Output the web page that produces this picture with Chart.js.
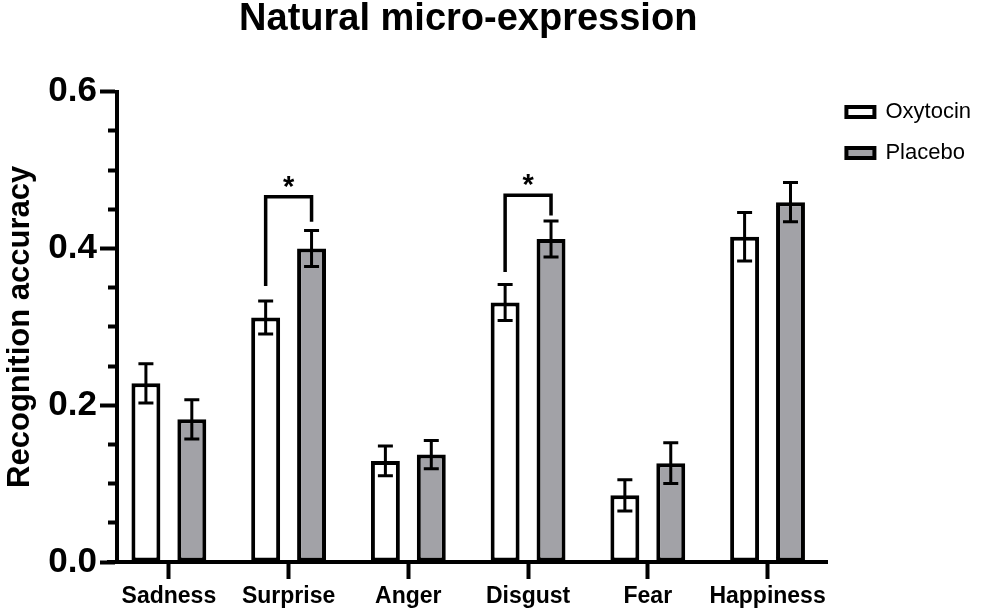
<!DOCTYPE html>
<html lang="en">

<head>
    <meta charset="UTF-8">
    <script src="https://cdn.jsdelivr.net/npm/chart.js"></script>
    <title>Natural micro-expression</title>
    <style>
        body { margin: 0; background: #FFFFFF; }
        #divChart { width: 981px; height: 616px; }
    </style>
</head>

<body>
    <div id="divChart"><canvas id="microChart" width="981" height="616"></canvas></div>
</body>

</html>

<script>
    const categories = ['Sadness', 'Surprise', 'Anger', 'Disgust', 'Fear', 'Happiness']
    const oxytocin = [0.228, 0.312, 0.129, 0.331, 0.085, 0.415]
    const placebo = [0.182, 0.400, 0.137, 0.412, 0.126, 0.459]
    const oxytocinSem = [0.025, 0.021, 0.019, 0.023, 0.020, 0.031]
    const placeboSem = [0.025, 0.023, 0.018, 0.023, 0.026, 0.025]

    const yMajorTicks = [0, 0.2, 0.4, 0.6]
    const yMinorStep = 0.05

    // significance brackets (Oxytocin vs Placebo)
    const sigCategory = ['Surprise', 'Disgust']
    const sigTop = [0.466, 0.468]
    const sigLeftEnd = [0.352, 0.370]
    const sigRightEnd = [0.434, 0.442]
    const sigLabel = ['*', '*']

    Chart.defaults.font.family = "'Liberation Sans', Arial, sans-serif"
    Chart.defaults.color = '#000000'

    const isMajor = v => yMajorTicks.some(t => Math.abs(t - v) < 1e-6)

    // y axis sits a little to the right of where the first category band starts
    const axisShift = {
        id: 'axisShift',
        afterLayout(chart) {
            const y = chart.scales.y
            y.left += 8
            y.right += 8
        }
    }

    const errorBars = {
        id: 'errorBars',
        afterDatasetsDraw(chart) {
            const ctx = chart.ctx
            const y = chart.scales.y
            ctx.save()
            ctx.strokeStyle = '#000000'
            ctx.lineWidth = 3
            const sems = [oxytocinSem, placeboSem]
            sems.forEach((sem, d) => {
                const serie = chart.data.datasets[d].data
                chart.getDatasetMeta(d).data.forEach((bar, i) => {
                    const top = y.getPixelForValue(serie[i] + sem[i])
                    const bottom = y.getPixelForValue(serie[i] - sem[i])
                    ctx.beginPath()
                    ctx.moveTo(bar.x, top)
                    ctx.lineTo(bar.x, bottom)
                    ctx.moveTo(bar.x - 7.5, top)
                    ctx.lineTo(bar.x + 7.5, top)
                    ctx.moveTo(bar.x - 7.5, bottom)
                    ctx.lineTo(bar.x + 7.5, bottom)
                    ctx.stroke()
                })
            })

            ctx.lineWidth = 3.5
            ctx.lineJoin = 'miter'
            ctx.fillStyle = '#000000'
            ctx.font = "bold 29px 'Liberation Sans', Arial, sans-serif"
            ctx.textAlign = 'center'
            ctx.textBaseline = 'alphabetic'
            sigCategory.forEach((cat, k) => {
                const i = categories.indexOf(cat)
                const xl = chart.getDatasetMeta(0).data[i].x
                const xr = chart.getDatasetMeta(1).data[i].x
                const yTop = y.getPixelForValue(sigTop[k])
                ctx.beginPath()
                ctx.moveTo(xl, y.getPixelForValue(sigLeftEnd[k]))
                ctx.lineTo(xl, yTop)
                ctx.lineTo(xr, yTop)
                ctx.lineTo(xr, y.getPixelForValue(sigRightEnd[k]))
                ctx.stroke()
                ctx.fillText(sigLabel[k], (xl + xr) / 2, yTop - 1)
            })
            ctx.restore()
        }
    }

    new Chart(microChart, {
        type: 'bar',
        data: {
            labels: categories,
            datasets: [{
                label: 'Oxytocin',
                data: oxytocin,
                backgroundColor: '#FFFFFF',
                borderColor: '#000000',
                borderWidth: 4,
                borderSkipped: false,
                categoryPercentage: 0.7667,
                barPercentage: 0.6304
            }, {
                label: 'Placebo',
                data: placebo,
                backgroundColor: '#A2A2A7',
                borderColor: '#000000',
                borderWidth: 4,
                borderSkipped: false,
                categoryPercentage: 0.7667,
                barPercentage: 0.6304
            }]
        },
        options: {
            responsive: false,
            animation: false,
            events: [],
            layout: { padding: 0 },
            plugins: {
                title: {
                    display: true,
                    text: 'Natural micro-expression',
                    fullSize: false,
                    color: '#000000',
                    font: { size: 38, weight: 'bold', lineHeight: 1 },
                    padding: { top: 1, bottom: 52.7 }
                },
                legend: {
                    position: 'right',
                    align: 'start',
                    title: { display: true, text: '', font: { size: 10, lineHeight: 1 }, padding: { top: 72, bottom: 0 } },
                    labels: {
                        boxWidth: 28,
                        boxHeight: 10,
                        padding: 19,
                        color: '#000000',
                        font: { size: 22 }
                    }
                },
                tooltip: { enabled: false }
            },
            scales: {
                x: {
                    offset: true,
                    afterFit(scale) { scale.height = 54 },
                    grid: { drawOnChartArea: false, offset: false, tickLength: 17, tickWidth: 4, tickColor: '#000000' },
                    border: { color: '#000000', width: 4 },
                    ticks: {
                        autoSkip: false,
                        maxRotation: 0,
                        padding: 6,
                        color: '#000000',
                        font: { size: 23, weight: 'bold', lineHeight: 1 }
                    }
                },
                y: {
                    min: 0,
                    max: 0.6,
                    afterFit(scale) { scale.width = 109 },
                    grid: {
                        drawOnChartArea: false,
                        tickLength: 17,
                        tickWidth: 4,
                        tickColor: '#000000',
                        tickBorderDash: c => (c.tick && !isMajor(c.tick.value)) ? [0, 8, 9, 100] : []
                    },
                    border: { color: '#000000', width: 4 },
                    ticks: {
                        stepSize: yMinorStep,
                        autoSkip: false,
                        padding: 3,
                        color: '#000000',
                        font: { size: 35, weight: 'bold', lineHeight: 1 },
                        callback: v => isMajor(v) ? v.toFixed(1) : ''
                    },
                    title: {
                        display: true,
                        text: 'Recognition accuracy',
                        color: '#000000',
                        font: { size: 31, weight: 'bold', lineHeight: 0.8 },
                        padding: 0
                    }
                }
            }
        },
        plugins: [axisShift, errorBars]
    })
</script>
